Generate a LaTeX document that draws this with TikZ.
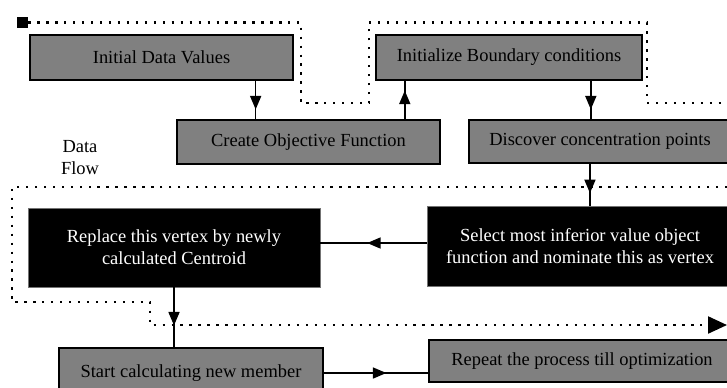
\documentclass[tikz,border=0pt]{standalone}
\usepackage{fontspec}
\setmainfont{Liberation Serif}
\usetikzlibrary{arrows.meta,decorations.markings,calc}
\definecolor{block-gray}{RGB}{128,128,128}
\tikzstyle{grayblock}=[draw=black, line width=1.3pt, fill=block-gray, text=black, inner sep=0pt, align=center, font=\fontsize{10.5}{12.5}\selectfont]
\tikzstyle{blackblock}=[draw=black!55, line width=0.5pt, fill=black, text=white, inner sep=0pt, align=center, font=\fontsize{10.5}{12.5}\selectfont]
\tikzstyle{flow}=[line width=0.9pt]
\tikzstyle{dotflow}=[line width=1.3pt, dash pattern=on 1.3pt off 3.8pt]
\tikzset{midarrow/.style={decoration={markings, mark=at position #1 with {\arrow{Triangle[length=0.27cm,width=0.22cm]}}}, postaction={decorate}}}

\begin{document}
\begin{tikzpicture}[x=0.02cm,y=-0.02cm]
	\useasboundingbox (0,0) rectangle (727,387);
	\clip (0,0) rectangle (727,387);
	\node[grayblock, minimum width=5.26cm, minimum height=0.9cm] (init) at (161.5,57.5) {Initial Data Values};
	\node[grayblock, minimum width=5.32cm, minimum height=0.9cm] (bound) at (509,57.5) {Initialize Boundary conditions};
	\node[grayblock, minimum width=5.26cm, minimum height=0.88cm] (objective) at (308.5,142) {Create Objective Function};
	\node[grayblock, minimum width=5.24cm, minimum height=0.86cm] (discover) at (600,141.5) {Discover concentration points};
	\node[blackblock, minimum width=6.12cm, minimum height=1.6cm] (select) at (580,246) {Select most inferior value object\\function and nominate this as vertex};
	\node[blackblock, minimum width=5.84cm, minimum height=1.58cm] (replace) at (174,247.5) {Replace this vertex by newly\\calculated Centroid};
	\node[grayblock, minimum width=5.28cm, minimum height=1.0cm] (start) at (191,373) {Start calculating new member};
	\node[grayblock, minimum width=6.12cm, minimum height=0.84cm] (repeat) at (582,361) {Repeat the process till optimization};
	\node[align=center, font=\fontsize{10.5}{12.5}\selectfont] (label) at (80,158) {Data\\Flow};
	\node[fill=black, minimum size=0.22cm, inner sep=0pt] (src) at (22.5,22.5) {};
	\coordinate (topend) at (727,103);
	\coordinate (midend) at (727,325);
	\draw[dotflow] (src.east) -- (301,22.5) -- (301,103) -- (369,103) -- (369,22.5) -- (647,22.5) -- (647,103) -- (topend);
	\draw[dotflow, -{Triangle[length=0.38cm,width=0.34cm]}] (727,187) -- (12,187) -- (12,302) -- (150,302) -- (150,325) -- (midend);
	\draw[flow, midarrow=0.75] ($(init.south west)!0.855!(init.south east)$) coordinate (a1) -- (a1 |- objective.north);
	\draw[flow, midarrow=0.75] ($(objective.north west)!0.863!(objective.north east)$) coordinate (a2) -- (a2 |- bound.south);
	\draw[flow, midarrow=0.75] ($(bound.south west)!0.805!(bound.south east)$) coordinate (a3) -- (a3 |- discover.north);
	\draw[flow, midarrow=0.7] ($(discover.south west)!0.462!(discover.south east)$) coordinate (a4) -- (a4 |- select.north);
	\draw[flow, midarrow=0.56] ([yshift=0.06cm]select.west) -- ([yshift=0.06cm]select.west -| replace.east);
	\draw[flow, midarrow=0.64] (replace.south) -- (replace.south |- start.north);
	\draw[flow, midarrow=0.6] (start.east) -- (start.east -| repeat.west);
\end{tikzpicture}
\end{document}
